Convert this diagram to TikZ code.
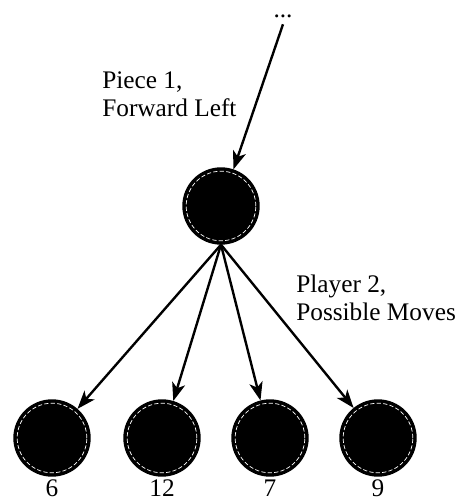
\documentclass[tikz,border=0pt]{standalone}
\usepackage{fontspec}
\setmainfont{Liberation Serif}
\usetikzlibrary{arrows.meta,positioning}
\tikzset{
  piece/.style={circle, fill=black, draw=black, line width=1pt, minimum size=1.9cm,
    path picture={\draw[white, line width=0.5pt, dash pattern=on 3pt off 1.6pt]
      (path picture bounding box.center) circle (0.87cm);}},
  move/.style={->, line width=1.7pt}
}
\begin{document}
\begin{tikzpicture}[font=\fontsize{18}{20}\selectfont, line join=round, >={Stealth[length=13pt,width=9.5pt,inset=3.5pt]}]
    \useasboundingbox (0,0) rectangle (11.475,12.55);
    \node[anchor=base, inner sep=0pt] (dots) at (7.075,12.1) {...};
    \node[piece] (top) at (5.525,7.4) {};
    \node[piece] (m1) at (1.30,1.6) {};
    \node[piece] (m2) at (4.05,1.6) {};
    \node[piece] (m3) at (6.75,1.6) {};
    \node[piece] (m4) at (9.45,1.6) {};
    \node[below=2pt of m1, inner sep=0pt] (l1) {6};
    \node[below=2pt of m2, inner sep=0pt] (l2) {12};
    \node[below=2pt of m3, inner sep=0pt] (l3) {7};
    \node[below=2pt of m4, inner sep=0pt] (l4) {9};
    % edge labels
    \node[anchor=west, align=left, inner sep=0pt] (piecelbl) at (2.55,10.2) {Piece 1,\\Forward Left};
    \node[anchor=west, align=left, inner sep=0pt] (playerlbl) at (7.4,5.11) {Player 2,\\Possible Moves};
    % moves
    \draw[move] ([yshift=-4pt]dots.south) -- (top);
    \foreach \m in {m1,m2,m3,m4}
        \draw[move] (top.south) -- (\m);
\end{tikzpicture}
\end{document}
